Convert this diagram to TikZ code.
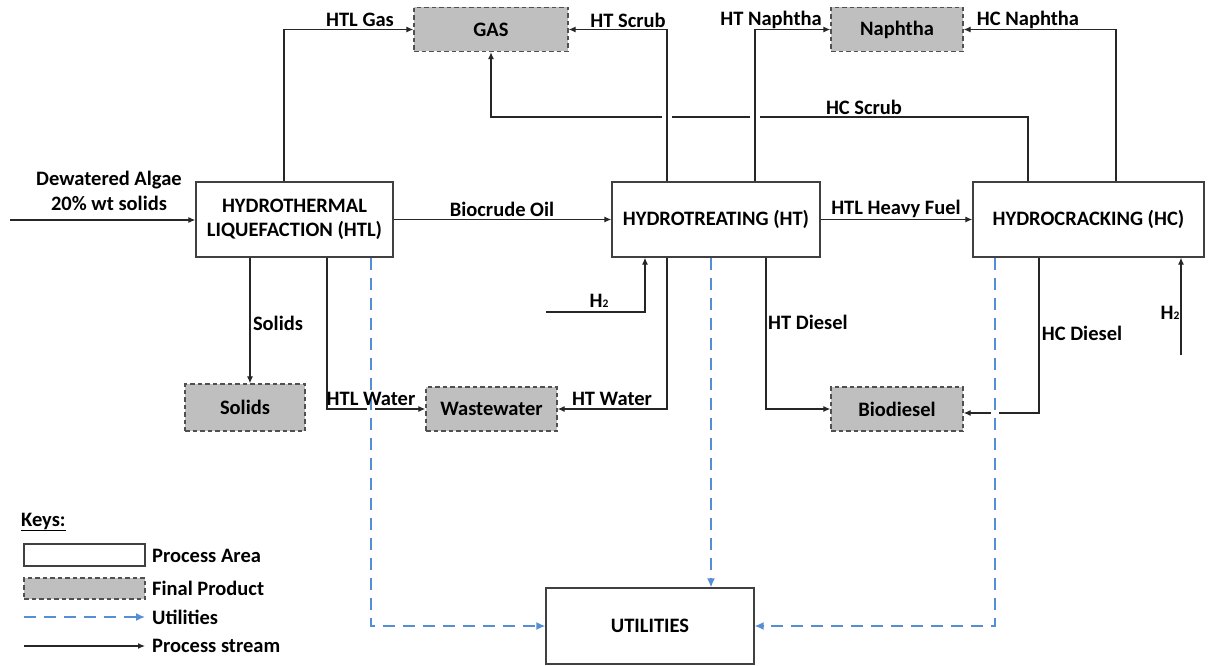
\documentclass[tikz,border=0pt]{standalone}
\usepackage{fontspec}
\setmainfont{Carlito}
\usetikzlibrary{arrows.meta,calc}
\definecolor{prodfill}{RGB}{191,191,191}
\definecolor{prodedge}{RGB}{80,80,80}
\definecolor{utilblue}{RGB}{85,142,213}
\definecolor{edgegray}{RGB}{64,64,64}
\newcommand{\Htwo}{H\raisebox{-0.05ex}{\fontsize{11.5}{11.5}\selectfont 2}}
\begin{document}
\begin{tikzpicture}[x=1pt,y=-1pt,
  font=\fontsize{20.5}{24.5}\selectfont\bfseries,
  area/.style={draw=edgegray,line width=1.3pt,fill=white,align=center,inner sep=0pt},
  product/.style={draw=prodedge,fill=prodfill,dash pattern=on 4.5pt off 3pt,line width=1.3pt,inner sep=0pt},
  stream/.style={draw=black!85,line width=1.2pt,-{Latex[length=7pt,width=6pt]}},
  util/.style={draw=utilblue,line width=1.5pt,dash pattern=on 12pt off 8pt,-{Latex[length=9pt,width=8pt]}},
  lbl/.style={inner sep=0pt,align=center},
  gap/.style={fill=white,draw=none}]
\useasboundingbox (0,0) rectangle (1210,666);

% process areas
\node[area,minimum width=197pt,minimum height=75pt] (HTL) at (294.5,219.5) {HYDROTHERMAL\\LIQUEFACTION (HTL)};
\node[area,minimum width=208pt,minimum height=75pt] (HT) at (716,219.5) {HYDROTREATING (HT)};
\node[area,minimum width=231pt,minimum height=75pt] (HC) at (1088.5,219.5) {HYDROCRACKING (HC)};
\node[area,minimum width=208pt,minimum height=76pt] (UTIL) at (650,626) {UTILITIES};

% final products
\node[product,minimum width=154pt,minimum height=44pt] (GAS) at (491,29.5) {GAS};
\node[product,minimum width=132pt,minimum height=44pt] (Naphtha) at (897,29.5) {Naphtha};
\node[product,minimum width=120pt,minimum height=47pt] (Solids) at (245,407.5) {Solids};
\node[product,minimum width=131pt,minimum height=44pt] (Wastewater) at (491.5,409) {Wastewater};
\node[product,minimum width=132pt,minimum height=44pt] (Biodiesel) at (897,409) {Biodiesel};

% stream columns and free ends
\coordinate (xHTLgas) at (284,0);
\coordinate (xHTscrub) at (667,0);
\coordinate (xHTnap) at (755,0);
\coordinate (xHCscrub) at (1028,0);
\coordinate (xHCnap) at (1116,0);
\coordinate (scrubTurn) at (491,117);
\coordinate (xSolids) at (250,0);
\coordinate (xHTLwater) at (327,0);
\coordinate (xHTLutil) at (371,0);
\coordinate (xHTutil) at (711,0);
\coordinate (xH2a) at (645,0);
\coordinate (h2aStart) at (546,312);
\coordinate (xHTdiesel) at (766,0);
\coordinate (xHCdiesel) at (1039,0);
\coordinate (xHCutil) at (995,0);
\coordinate (h2bStart) at (1181,355);
\coordinate (feedStart) at (10,220);
\coordinate (yHCdiesel) at (0,413);

% upper streams
\draw[stream] (feedStart) -- (feedStart -| HTL.west);
\draw[stream] (HTL.north -| xHTLgas) |- (GAS.west);
\draw[stream] (HC.north -| xHCscrub) |- (scrubTurn) -- (GAS.south);
\fill[gap] (662,113) rectangle (672,121);
\fill[gap] (750,113) rectangle (760,121);
\draw[stream] (HT.north -| xHTscrub) |- (GAS.east);
\draw[stream] (HT.north -| xHTnap) |- (Naphtha.west);
\draw[stream] (HC.north -| xHCnap) |- (Naphtha.east);
\draw[stream] (HTL.east) -- (HT.west);
\draw[stream] (HT.east) -- (HC.west);

% hydrogen feeds
\draw[stream] (h2aStart) -| (HT.south -| xH2a);
\draw[stream] (h2bStart) -- (HC.south -| h2bStart);

% lower streams
\draw[stream] (HTL.south -| xSolids) -- (Solids.north -| xSolids);
\draw[stream] (HTL.south -| xHTLwater) |- (Wastewater.west);
\draw[stream] (HT.south -| xHTscrub) |- (Wastewater.east);
\draw[stream] (HT.south -| xHTdiesel) |- (Biodiesel.west);
\draw[stream] (HC.south -| xHCdiesel) |- (Biodiesel.east |- yHCdiesel);
\fill[gap] (367,405) rectangle (375,413);
\fill[gap] (991,409) rectangle (999,417);

% utilities
\draw[util] (HTL.south -| xHTLutil) |- (UTIL.west);
\draw[util] (HT.south -| xHTutil) -- (UTIL.north -| xHTutil);
\draw[util] (HC.south -| xHCutil) |- (UTIL.east);

% stream labels
\node[lbl] (lFeed) at (109,191) {Dewatered Algae\\20\% wt solids};
\node[lbl] (lHTLgas) at (360,20) {HTL Gas};
\node[lbl] (lHTscrub) at (628,20) {HT Scrub};
\node[lbl] (lHTnap) at (771,20) {HT Naphtha};
\node[lbl] (lHCnap) at (1028,20) {HC Naphtha};
\node[lbl] (lHCscrub) at (864,107) {HC Scrub};
\node[lbl] (lBio) at (502,209) {Biocrude Oil};
\node[lbl] (lHeavy) at (896,209) {HTL Heavy Fuel};
\node[lbl] (lH2a) at (599,301) {\Htwo};
\node[lbl] (lH2b) at (1170,313) {\Htwo};
\node[lbl] (lSolids) at (278,323) {Solids};
\node[lbl] (lHTdiesel) at (808,322) {HT Diesel};
\node[lbl] (lHCdiesel) at (1082,333) {HC Diesel};
\node[lbl] (lHTLwater) at (371,399) {HTL Water};
\node[lbl] (lHTwater) at (612,399) {HT Water};

% legend
\node[lbl,anchor=west] (kTitle) at (21,522) {\underline{Keys:}};
\node[area,minimum width=121pt,minimum height=22pt] (kArea) at (84.5,555) {};
\node[product,minimum width=121pt,minimum height=21pt] (kProd) at (84.5,588.5) {};
\coordinate (kUtilA) at (24,617);
\coordinate (kUtilB) at (145,617);
\coordinate (kStreamA) at (24,646);
\coordinate (kStreamB) at (145,646);
\draw[util] (kUtilA) -- (kUtilB);
\draw[stream] (kStreamA) -- (kStreamB);
\node[lbl,anchor=west] (kAreaTxt) at (152,556) {Process Area};
\node[lbl,anchor=west] (kProdTxt) at (152,588) {Final Product};
\node[lbl,anchor=west] (kUtilTxt) at (152,617) {Utilities};
\node[lbl,anchor=west] (kStreamTxt) at (152,646) {Process stream};
\end{tikzpicture}
\end{document}
